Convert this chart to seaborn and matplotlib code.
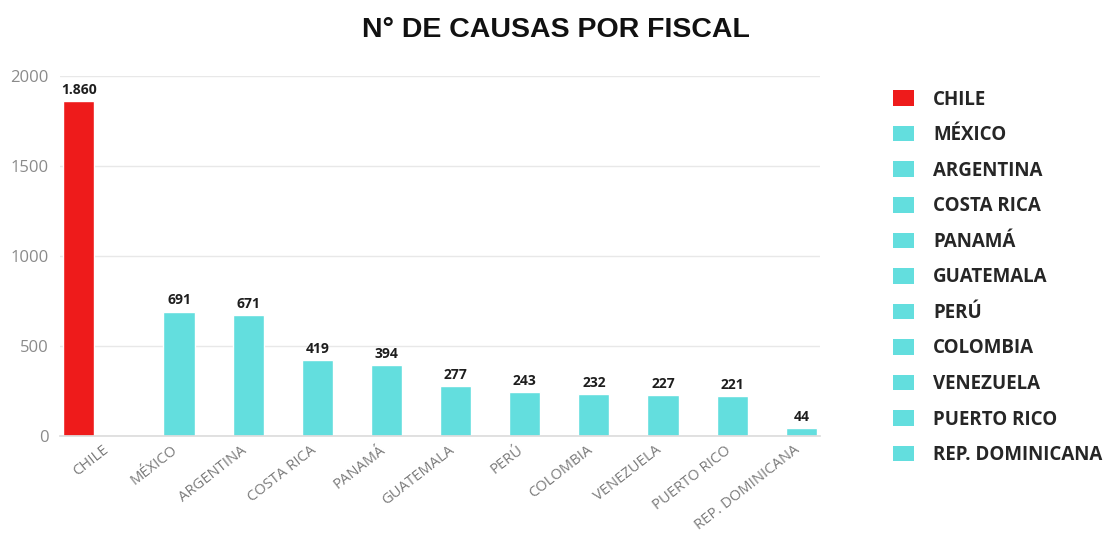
import matplotlib
matplotlib.use("Agg")
import matplotlib.pyplot as plt
import matplotlib.transforms as mtransforms
from matplotlib.patches import Patch
import seaborn as sns
import pandas as pd

paises = ["CHILE", "MÉXICO", "ARGENTINA", "COSTA RICA", "PANAMÁ", "GUATEMALA",
          "PERÚ", "COLOMBIA", "VENEZUELA", "PUERTO RICO", "REP. DOMINICANA"]
causas = [1860, 691, 671, 419, 394, 277, 243, 232, 227, 221, 44]
grupos = ["Chile"] + ["Resto"] * 10

ROJO = "#EE1B1B"
CIAN = "#63DEDE"
colores = {"Chile": ROJO, "Resto": CIAN}

df = pd.DataFrame({"pais": paises, "causas": causas, "grupo": grupos})

sns.set_theme(style="white")
plt.rcParams["font.family"] = ["Open Sans", "DejaVu Sans"]

fig = plt.figure(figsize=(11.07, 5.36), dpi=100)
ax = fig.add_axes([0.054, 0.187, 0.687, 0.671])

sns.barplot(data=df, x="pais", y="causas", hue="grupo", palette=colores,
            dodge=True, width=0.9, order=paises, hue_order=["Chile", "Resto"],
            legend=False, ax=ax, saturation=1)

def fmt(v):
    return f"{int(v):,}".replace(",", ".")

for cont in ax.containers:
    ax.bar_label(cont, labels=[fmt(b.get_height()) if b.get_height() > 0 else ""
                               for b in cont],
                 padding=3, fontsize=10, fontweight="bold", color="#1E1E1E")

ax.set_ylim(0, 2000)
ax.set_xlim(-0.5, 10.5)
ax.set_yticks([0, 500, 1000, 1500, 2000])
ax.yaxis.grid(True, color="#E8E8E8", linewidth=1)
ax.set_axisbelow(True)
for s in ["top", "right", "left"]:
    ax.spines[s].set_visible(False)
ax.spines["bottom"].set_color("#DDDDDD")
ax.set_xlabel("")
ax.set_ylabel("")
ax.tick_params(axis="y", labelsize=12, colors="#8A8A8A", length=0, pad=8)
ax.tick_params(axis="x", length=0, pad=5)
ax.set_xticks(range(len(paises)))
ax.set_xticklabels(paises, rotation=38, ha="right", rotation_mode="anchor",
                   fontsize=10.6, color="#7A7A7A", fontweight="normal")
shift = mtransforms.ScaledTranslation(8 / 100, 0, fig.dpi_scale_trans)
for lbl in ax.get_xticklabels():
    lbl.set_transform(lbl.get_transform() + shift)

fig.suptitle("N° DE CAUSAS POR FISCAL", x=0.502, y=0.968, fontsize=20.5,
             fontweight="bold", family="Liberation Sans", color="#111111")

handles = [Patch(facecolor=colores[g], edgecolor="none") for g in grupos]
fig.legend(handles, paises, loc="upper left", bbox_to_anchor=(0.807, 0.833),
           frameon=False, prop={"size": 13.5, "weight": "bold"},
           handlelength=1.12, handleheight=0.9, handletextpad=1.0,
           labelspacing=0.83, borderpad=0, borderaxespad=0)

fig.savefig("out.png", dpi=100, facecolor="white")
